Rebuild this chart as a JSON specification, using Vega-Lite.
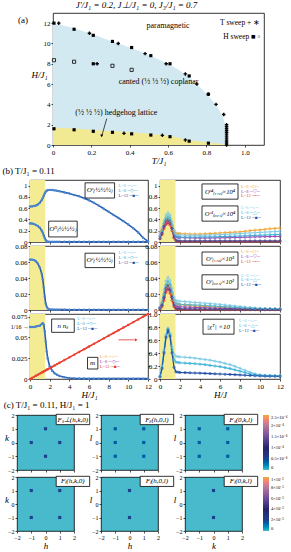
{
"$schema":"https://vega.github.io/schema/vega-lite/v6.json",
"padding":{"left":0,"top":0,"right":0,"bottom":0},
"spacing":0,
"config":{
 "font":"Liberation Serif",
 "view":{"stroke":"black","strokeWidth":0.8},
 "axis":{"grid":false,"domain":false,"tickColor":"black","tickSize":2,"tickWidth":0.7,"labelFont":"Liberation Serif","labelFontSize":7,"labelColor":"black","labelPadding":1,"titleFont":"Liberation Serif","titleFontSize":9,"titleFontStyle":"italic","titleFontWeight":"normal","titleColor":"black","titlePadding":1,"labelOverlap":false,"labelFlush":false},
 "text":{"font":"Liberation Serif","color":"black"},
 "title":{"font":"Liberation Serif","fontWeight":"normal","color":"black"}
},
"datasets":{
 "pbB":[{"T":0,"H":12.0},{"T":0.05,"H":11.8},{"T":0.1,"H":11.55},{"T":0.15,"H":11.25},{"T":0.2,"H":10.95},{"T":0.25,"H":10.6},{"T":0.3,"H":10.25},{"T":0.35,"H":9.95},{"T":0.4,"H":9.6},{"T":0.45,"H":9.25},{"T":0.5,"H":8.85},{"T":0.55,"H":8.45},{"T":0.6,"H":8.0},{"T":0.65,"H":7.45},{"T":0.7,"H":6.85},{"T":0.75,"H":6.0},{"T":0.8,"H":5.05},{"T":0.85,"H":3.95},{"T":0.88,"H":3.0},{"T":0.9,"H":2.0},{"T":0.907,"H":1.0},{"T":0.91,"H":0}],
 "pbY":[{"T":0,"H":1.72},{"T":0.1,"H":1.62},{"T":0.2,"H":1.5},{"T":0.3,"H":1.38},{"T":0.4,"H":1.25},{"T":0.5,"H":1.1},{"T":0.6,"H":0.9},{"T":0.65,"H":0.75},{"T":0.7,"H":0.5},{"T":0.8,"H":0.28},{"T":0.9,"H":0.06},{"T":0.91,"H":0}],
 "pts":[
  {"k":"t","T":0.03,"H":12.0},{"k":"t","T":0.19,"H":11.0},{"k":"t","T":0.23,"H":8.0},{"k":"t","T":0.34,"H":10.0},{"k":"t","T":0.37,"H":1.15},{"k":"t","T":0.48,"H":9.0},{"k":"t","T":0.57,"H":0.95},{"k":"t","T":0.59,"H":8.0},{"k":"t","T":0.69,"H":7.0},{"k":"t","T":0.69,"H":0.5},{"k":"t","T":0.75,"H":6.0},{"k":"t","T":0.81,"H":5.0},{"k":"t","T":0.85,"H":4.0},{"k":"t","T":0.89,"H":3.0},{"k":"t","T":0.905,"H":2.0},{"k":"t","T":0.905,"H":1.8},{"k":"t","T":0.905,"H":1.6},{"k":"t","T":0.905,"H":1.4},{"k":"t","T":0.905,"H":1.2},{"k":"t","T":0.905,"H":1.0},{"k":"t","T":0.905,"H":0.8},{"k":"t","T":0.905,"H":0.6},{"k":"t","T":0.905,"H":0.4},{"k":"t","T":0.905,"H":0.2},{"k":"t","T":0.905,"H":0.0},
  {"k":"h","T":0.005,"H":12.0},{"k":"h","T":0.11,"H":11.4},{"k":"h","T":0.21,"H":10.8},{"k":"h","T":0.31,"H":10.2},{"k":"h","T":0.41,"H":9.6},{"k":"h","T":0.51,"H":8.8},{"k":"h","T":0.61,"H":8.0},{"k":"h","T":0.71,"H":6.8},{"k":"h","T":0.81,"H":5.0},{"k":"h","T":0.005,"H":1.6},{"k":"h","T":0.11,"H":1.5},{"k":"h","T":0.21,"H":1.35},{"k":"h","T":0.31,"H":1.25},{"k":"h","T":0.41,"H":1.1},{"k":"h","T":0.51,"H":0.98},{"k":"h","T":0.61,"H":0.82},{"k":"h","T":0.71,"H":0.38},{"k":"h","T":0.81,"H":0.18},{"k":"h","T":0.21,"H":8.0},
  {"k":"o","T":0.005,"H":8.35},{"k":"o","T":0.11,"H":8.2},{"k":"o","T":0.31,"H":7.8},{"k":"o","T":0.41,"H":7.4}
 ],
 "lf":[
  {"H":0,"S":0.63,"O":0.33,"C":0.063,"n":0.0625,"m":0},
  {"H":0.2,"S":0.632,"O":0.327,"C":0.063,"n":0.0625,"m":0.016},
  {"H":0.4,"S":0.638,"O":0.318,"C":0.0625,"n":0.0625,"m":0.033},
  {"H":0.6,"S":0.648,"O":0.303,"C":0.061,"n":0.063,"m":0.05},
  {"H":0.8,"S":0.665,"O":0.283,"C":0.058,"n":0.0635,"m":0.066},
  {"H":1.0,"S":0.695,"O":0.252,"C":0.053,"n":0.064,"m":0.083},
  {"H":1.2,"S":0.745,"O":0.2,"C":0.045,"n":0.066,"m":0.1},
  {"H":1.3,"S":0.78,"O":0.165,"C":0.038,"n":0.067,"m":0.108},
  {"H":1.4,"S":0.82,"O":0.12,"C":0.028,"n":0.065,"m":0.116},
  {"H":1.5,"S":0.86,"O":0.07,"C":0.017,"n":0.057,"m":0.125},
  {"H":1.6,"S":0.89,"O":0.035,"C":0.008,"n":0.045,"m":0.133},
  {"H":1.7,"S":0.91,"O":0.015,"C":0.004,"n":0.033,"m":0.141},
  {"H":1.8,"S":0.92,"O":0.007,"C":0.002,"n":0.025,"m":0.15},
  {"H":2,"S":0.925,"O":0.004,"C":0.001,"n":0.015,"m":0.166},
  {"H":2.25,"S":0.922,"O":0.003,"C":0.0007,"n":0.01,"m":0.187},
  {"H":2.5,"S":0.916,"O":0.003,"C":0.0005,"n":0.007,"m":0.208},
  {"H":2.75,"S":0.908,"O":0.003,"C":0.0005,"n":0.005,"m":0.229},
  {"H":3,"S":0.9,"O":0.003,"C":0.0005,"n":0.0035,"m":0.25},
  {"H":3.5,"S":0.88,"O":0.003,"C":0.0005,"n":0.002,"m":0.291},
  {"H":4,"S":0.86,"O":0.003,"C":0.0004,"n":0.0012,"m":0.333},
  {"H":4.5,"S":0.835,"O":0.003,"C":0.0004,"n":0.0008,"m":0.375},
  {"H":5,"S":0.81,"O":0.003,"C":0.0004,"n":0.0006,"m":0.416},
  {"H":5.5,"S":0.778,"O":0.003,"C":0.0004,"n":0.0005,"m":0.458},
  {"H":6,"S":0.742,"O":0.003,"C":0.0004,"n":0.0004,"m":0.5},
  {"H":6.5,"S":0.695,"O":0.003,"C":0.0004,"n":0.0004,"m":0.541},
  {"H":7,"S":0.645,"O":0.003,"C":0.0004,"n":0.0004,"m":0.583},
  {"H":7.5,"S":0.59,"O":0.003,"C":0.0004,"n":0.0004,"m":0.625},
  {"H":8,"S":0.535,"O":0.003,"C":0.0004,"n":0.0004,"m":0.666},
  {"H":8.5,"S":0.48,"O":0.003,"C":0.0004,"n":0.0004,"m":0.708},
  {"H":9,"S":0.425,"O":0.003,"C":0.0004,"n":0.0004,"m":0.75},
  {"H":9.5,"S":0.37,"O":0.003,"C":0.0004,"n":0.0004,"m":0.791},
  {"H":10,"S":0.31,"O":0.003,"C":0.0004,"n":0.0004,"m":0.833},
  {"H":10.5,"S":0.245,"O":0.003,"C":0.0004,"n":0.0004,"m":0.875},
  {"H":11,"S":0.17,"O":0.003,"C":0.0004,"n":0.0004,"m":0.916},
  {"H":11.5,"S":0.075,"O":0.003,"C":0.0004,"n":0.0004,"m":0.958},
  {"H":12,"S":0.01,"O":0.003,"C":0.0004,"n":0.0004,"m":1.0}
 ],
 "r1r":[
  {"H":0,"C6":0.15,"C8":0.10,"C12":0.06,"S6":0.17,"S8":0.11,"S12":0.06},
  {"H":0.2,"C6":0.25,"C8":0.20,"C12":0.15,"S6":0.22,"S8":0.16,"S12":0.13},
  {"H":0.4,"C6":0.38,"C8":0.33,"C12":0.28,"S6":0.30,"S8":0.26,"S12":0.24},
  {"H":0.6,"C6":0.48,"C8":0.42,"C12":0.37,"S6":0.36,"S8":0.32,"S12":0.31},
  {"H":0.8,"C6":0.52,"C8":0.46,"C12":0.40,"S6":0.38,"S8":0.35,"S12":0.34},
  {"H":1.0,"C6":0.48,"C8":0.42,"C12":0.36,"S6":0.35,"S8":0.32,"S12":0.30},
  {"H":1.2,"C6":0.36,"C8":0.30,"C12":0.24,"S6":0.28,"S8":0.24,"S12":0.20},
  {"H":1.4,"C6":0.21,"C8":0.16,"C12":0.09,"S6":0.20,"S8":0.13,"S12":0.07},
  {"H":1.6,"C6":0.14,"C8":0.10,"C12":0.03,"S6":0.16,"S8":0.09,"S12":0.02},
  {"H":1.8,"C6":0.13,"C8":0.09,"C12":0.02,"S6":0.15,"S8":0.08,"S12":0.012},
  {"H":2,"C6":0.125,"C8":0.085,"C12":0.02,"S6":0.15,"S8":0.08,"S12":0.01},
  {"H":2.5,"C6":0.12,"C8":0.085,"C12":0.02,"S6":0.145,"S8":0.075,"S12":0.01},
  {"H":3,"C6":0.12,"C8":0.085,"C12":0.02,"S6":0.14,"S8":0.075,"S12":0.01},
  {"H":3.5,"C6":0.12,"C8":0.085,"C12":0.02,"S6":0.14,"S8":0.07,"S12":0.01},
  {"H":4,"C6":0.12,"C8":0.088,"C12":0.02,"S6":0.14,"S8":0.07,"S12":0.01},
  {"H":4.5,"C6":0.122,"C8":0.09,"C12":0.02,"S6":0.145,"S8":0.07,"S12":0.01},
  {"H":5,"C6":0.125,"C8":0.09,"C12":0.02,"S6":0.15,"S8":0.072,"S12":0.01},
  {"H":5.5,"C6":0.128,"C8":0.092,"C12":0.02,"S6":0.155,"S8":0.072,"S12":0.01},
  {"H":6,"C6":0.13,"C8":0.095,"C12":0.02,"S6":0.16,"S8":0.075,"S12":0.01},
  {"H":6.5,"C6":0.135,"C8":0.098,"C12":0.02,"S6":0.165,"S8":0.075,"S12":0.01},
  {"H":7,"C6":0.14,"C8":0.10,"C12":0.02,"S6":0.17,"S8":0.078,"S12":0.01},
  {"H":7.5,"C6":0.145,"C8":0.103,"C12":0.02,"S6":0.175,"S8":0.08,"S12":0.01},
  {"H":8,"C6":0.15,"C8":0.106,"C12":0.02,"S6":0.18,"S8":0.082,"S12":0.01},
  {"H":8.5,"C6":0.155,"C8":0.11,"C12":0.02,"S6":0.19,"S8":0.085,"S12":0.01},
  {"H":9,"C6":0.16,"C8":0.113,"C12":0.02,"S6":0.2,"S8":0.087,"S12":0.01},
  {"H":9.5,"C6":0.165,"C8":0.117,"C12":0.02,"S6":0.21,"S8":0.09,"S12":0.01},
  {"H":10,"C6":0.17,"C8":0.12,"C12":0.02,"S6":0.215,"S8":0.092,"S12":0.01},
  {"H":10.5,"C6":0.175,"C8":0.124,"C12":0.02,"S6":0.225,"S8":0.095,"S12":0.01},
  {"H":11,"C6":0.18,"C8":0.128,"C12":0.02,"S6":0.235,"S8":0.097,"S12":0.01},
  {"H":11.5,"C6":0.185,"C8":0.132,"C12":0.02,"S6":0.24,"S8":0.1,"S12":0.01},
  {"H":12,"C6":0.19,"C8":0.136,"C12":0.02,"S6":0.25,"S8":0.1,"S12":0.01}
 ],
 "r2r":[
  {"H":0,"C6":0.004,"C8":0.003,"C12":0.002,"S6":0.003,"S8":0.002,"S12":0.001},
  {"H":0.2,"C6":0.012,"C8":0.009,"C12":0.006,"S6":0.008,"S8":0.006,"S12":0.004},
  {"H":0.4,"C6":0.025,"C8":0.02,"C12":0.016,"S6":0.018,"S8":0.015,"S12":0.012},
  {"H":0.6,"C6":0.036,"C8":0.031,"C12":0.027,"S6":0.027,"S8":0.024,"S12":0.022},
  {"H":0.8,"C6":0.041,"C8":0.036,"C12":0.031,"S6":0.031,"S8":0.028,"S12":0.026},
  {"H":1.0,"C6":0.037,"C8":0.032,"C12":0.026,"S6":0.028,"S8":0.025,"S12":0.021},
  {"H":1.2,"C6":0.027,"C8":0.022,"C12":0.016,"S6":0.02,"S8":0.016,"S12":0.012},
  {"H":1.4,"C6":0.016,"C8":0.012,"C12":0.006,"S6":0.012,"S8":0.008,"S12":0.004},
  {"H":1.6,"C6":0.012,"C8":0.008,"C12":0.002,"S6":0.008,"S8":0.005,"S12":0.001},
  {"H":1.8,"C6":0.011,"C8":0.0075,"C12":0.0015,"S6":0.007,"S8":0.004,"S12":0.0008},
  {"H":2,"C6":0.011,"C8":0.007,"C12":0.0015,"S6":0.0065,"S8":0.004,"S12":0.0006},
  {"H":2.5,"C6":0.0105,"C8":0.0068,"C12":0.0014,"S6":0.006,"S8":0.0037,"S12":0.0005},
  {"H":3,"C6":0.01,"C8":0.0065,"C12":0.0013,"S6":0.0055,"S8":0.0035,"S12":0.0005},
  {"H":3.5,"C6":0.0095,"C8":0.0062,"C12":0.0012,"S6":0.005,"S8":0.0032,"S12":0.0005},
  {"H":4,"C6":0.009,"C8":0.006,"C12":0.0012,"S6":0.0047,"S8":0.003,"S12":0.0004},
  {"H":4.5,"C6":0.0085,"C8":0.0056,"C12":0.0011,"S6":0.0044,"S8":0.0028,"S12":0.0004},
  {"H":5,"C6":0.008,"C8":0.0052,"C12":0.001,"S6":0.004,"S8":0.0026,"S12":0.0004},
  {"H":5.5,"C6":0.0075,"C8":0.0048,"C12":0.001,"S6":0.0037,"S8":0.0024,"S12":0.0004},
  {"H":6,"C6":0.007,"C8":0.0045,"C12":0.0009,"S6":0.0034,"S8":0.0022,"S12":0.0003},
  {"H":6.5,"C6":0.0063,"C8":0.0041,"C12":0.0009,"S6":0.0031,"S8":0.002,"S12":0.0003},
  {"H":7,"C6":0.0056,"C8":0.0037,"C12":0.0008,"S6":0.0028,"S8":0.0018,"S12":0.0003},
  {"H":7.5,"C6":0.005,"C8":0.0033,"C12":0.0008,"S6":0.0025,"S8":0.0016,"S12":0.0003},
  {"H":8,"C6":0.0043,"C8":0.0029,"C12":0.0007,"S6":0.0022,"S8":0.0014,"S12":0.0003},
  {"H":8.5,"C6":0.0037,"C8":0.0025,"C12":0.0007,"S6":0.002,"S8":0.0013,"S12":0.0003},
  {"H":9,"C6":0.0031,"C8":0.0022,"C12":0.0006,"S6":0.0018,"S8":0.0012,"S12":0.0003},
  {"H":9.5,"C6":0.0026,"C8":0.0019,"C12":0.0006,"S6":0.0016,"S8":0.0011,"S12":0.0003},
  {"H":10,"C6":0.0022,"C8":0.0016,"C12":0.0006,"S6":0.0015,"S8":0.001,"S12":0.0003},
  {"H":10.5,"C6":0.002,"C8":0.0015,"C12":0.0005,"S6":0.0014,"S8":0.001,"S12":0.0003},
  {"H":11,"C6":0.0018,"C8":0.0014,"C12":0.0005,"S6":0.0013,"S8":0.0009,"S12":0.0003},
  {"H":11.5,"C6":0.0017,"C8":0.0013,"C12":0.0005,"S6":0.0012,"S8":0.0009,"S12":0.0003},
  {"H":12,"C6":0.0016,"C8":0.0012,"C12":0.0005,"S6":0.0012,"S8":0.0008,"S12":0.0003}
 ],
 "r3r":[
  {"H":0,"X6":0.05,"X8":0.04,"X12":0.03},
  {"H":0.2,"X6":0.2,"X8":0.18,"X12":0.16},
  {"H":0.4,"X6":0.45,"X8":0.42,"X12":0.40},
  {"H":0.6,"X6":0.68,"X8":0.66,"X12":0.64},
  {"H":0.8,"X6":0.78,"X8":0.77,"X12":0.75},
  {"H":1.0,"X6":0.7,"X8":0.68,"X12":0.66},
  {"H":1.2,"X6":0.5,"X8":0.45,"X12":0.4},
  {"H":1.4,"X6":0.38,"X8":0.3,"X12":0.18},
  {"H":1.6,"X6":0.35,"X8":0.26,"X12":0.11},
  {"H":1.8,"X6":0.345,"X8":0.255,"X12":0.105},
  {"H":2,"X6":0.34,"X8":0.25,"X12":0.1},
  {"H":2.5,"X6":0.335,"X8":0.245,"X12":0.098},
  {"H":3,"X6":0.33,"X8":0.24,"X12":0.095},
  {"H":3.5,"X6":0.32,"X8":0.235,"X12":0.092},
  {"H":4,"X6":0.31,"X8":0.228,"X12":0.09},
  {"H":4.5,"X6":0.3,"X8":0.22,"X12":0.087},
  {"H":5,"X6":0.29,"X8":0.21,"X12":0.084},
  {"H":5.5,"X6":0.275,"X8":0.2,"X12":0.08},
  {"H":6,"X6":0.26,"X8":0.19,"X12":0.077},
  {"H":6.5,"X6":0.24,"X8":0.175,"X12":0.073},
  {"H":7,"X6":0.22,"X8":0.16,"X12":0.07},
  {"H":7.5,"X6":0.195,"X8":0.14,"X12":0.066},
  {"H":8,"X6":0.165,"X8":0.12,"X12":0.062},
  {"H":8.5,"X6":0.135,"X8":0.1,"X12":0.058},
  {"H":9,"X6":0.105,"X8":0.08,"X12":0.054},
  {"H":9.5,"X6":0.08,"X8":0.065,"X12":0.05},
  {"H":10,"X6":0.065,"X8":0.055,"X12":0.047},
  {"H":10.5,"X6":0.058,"X8":0.05,"X12":0.045},
  {"H":11,"X6":0.055,"X8":0.048,"X12":0.043},
  {"H":11.5,"X6":0.053,"X8":0.047,"X12":0.042},
  {"H":12,"X6":0.052,"X8":0.046,"X12":0.041}
 ],
 "pk":[
  {"m":"a","x":0,"y":1,"v":0.00005},{"m":"a","x":-1,"y":0,"v":0.00005},{"m":"a","x":1,"y":0,"v":0.00005},{"m":"a","x":0,"y":-1,"v":0.00005},
  {"m":"b","x":-1,"y":1,"v":0.00004},{"m":"b","x":1,"y":1,"v":0.00004},{"m":"b","x":-1,"y":0,"v":0.00004},{"m":"b","x":1,"y":0,"v":0.00004},{"m":"b","x":-1,"y":-1,"v":0.00004},{"m":"b","x":1,"y":-1,"v":0.00004},
  {"m":"c","x":-1,"y":1,"v":0.00004},{"m":"c","x":1,"y":1,"v":0.00004},{"m":"c","x":-1,"y":0,"v":0.00004},{"m":"c","x":1,"y":0,"v":0.00004},{"m":"c","x":-1,"y":-1,"v":0.00004},{"m":"c","x":1,"y":-1,"v":0.00004},
  {"m":"d","x":-1,"y":1,"v":0.002},{"m":"d","x":1,"y":1,"v":0.002},{"m":"d","x":-1,"y":-1,"v":0.002},{"m":"d","x":1,"y":-1,"v":0.002},
  {"m":"e","x":0,"y":1,"v":0.002},{"m":"e","x":0,"y":-1,"v":0.002},
  {"m":"f","x":0,"y":1,"v":0.002},{"m":"f","x":0,"y":-1,"v":0.002}
 ]
},
"vconcat":[
 {"bounds":"flush","spacing":1,"hconcat":[
  {"width":35,"height":1,"view":{"stroke":null},"data":{"values":[{}]},"mark":{"type":"point","opacity":0},"encoding":{}},
  {"width":211,"height":132,
   "title":{"text":"J′/J₁ = 0.2,  J⊥/J₁ = 0,  J₃/J₁ = 0.7","fontSize":9,"fontStyle":"italic","offset":3,"dx":-22},
   "layer":[
    {"data":{"name":"pbB"},"mark":{"type":"area","color":"#d3e9f2"},"encoding":{"x":{"field":"T","type":"quantitative","scale":{"domain":[0,1.1],"nice":false},"axis":{"values":[0,0.2,0.4,0.6,0.8,1],"tickCount":20,"labelExpr":"datum.value==0?'0':format(datum.value,'.1f')","title":"T/J₁"}},"y":{"field":"H","type":"quantitative","scale":{"domain":[0,13],"nice":false},"axis":{"tickCount":7,"format":"d","title":"H/J₁","titleAngle":0,"titlePadding":4}}}},
    {"data":{"name":"pbY"},"mark":{"type":"area","color":"#f2ea93"},"encoding":{"x":{"field":"T","type":"quantitative"},"y":{"field":"H","type":"quantitative"}}},
    {"data":{"name":"pts"},"transform":[{"filter":"datum.k=='t'"}],"mark":{"type":"point","shape":"cross","filled":true,"color":"black","size":12,"opacity":1},"encoding":{"x":{"field":"T","type":"quantitative"},"y":{"field":"H","type":"quantitative"}}},
    {"data":{"name":"pts"},"transform":[{"filter":"datum.k=='h'"}],"mark":{"type":"point","shape":"square","filled":true,"color":"black","size":10,"opacity":1},"encoding":{"x":{"field":"T","type":"quantitative"},"y":{"field":"H","type":"quantitative"}}},
    {"data":{"name":"pts"},"transform":[{"filter":"datum.k=='o'"}],"mark":{"type":"point","shape":"square","filled":false,"color":"black","size":10,"strokeWidth":0.8,"opacity":1},"encoding":{"x":{"field":"T","type":"quantitative"},"y":{"field":"H","type":"quantitative"}}},
    {"data":{"values":[{}]},"mark":{"type":"text","fontSize":8},"encoding":{"x":{"datum":0.6},"y":{"datum":11.7},"text":{"value":"paramagnetic"}}},
    {"data":{"values":[{}]},"mark":{"type":"text","fontSize":7.5,"align":"right"},"encoding":{"x":{"datum":1.08},"y":{"datum":12.0},"text":{"value":"T sweep + ∗"}}},
    {"data":{"values":[{}]},"mark":{"type":"text","fontSize":7.5,"align":"right"},"encoding":{"x":{"datum":1.08},"y":{"datum":10.6},"text":{"value":"H sweep ■ ▫"}}},
    {"data":{"values":[{}]},"mark":{"type":"text","fontSize":8},"encoding":{"x":{"datum":0.55},"y":{"datum":6.2},"text":{"value":"canted (½ ½ ½) coplanar"}}},
    {"data":{"values":[{}]},"mark":{"type":"text","fontSize":8},"encoding":{"x":{"datum":0.33},"y":{"datum":3.2},"text":{"value":"(½ ½ ½) hedgehog lattice"}}},
    {"data":{"values":[{}]},"mark":{"type":"text","fontSize":9},"encoding":{"x":{"datum":-0.156},"y":{"datum":12.3},"text":{"value":"(a)"}}},
    {"data":{"values":[{}]},"mark":{"type":"rule","color":"black","strokeWidth":0.7},"encoding":{"x":{"datum":0.28},"y":{"datum":2.6},"x2":{"datum":0.256},"y2":{"datum":1.0}}},
    {"data":{"values":[{}]},"mark":{"type":"point","shape":"triangle-down","filled":true,"color":"black","size":10,"opacity":1},"encoding":{"x":{"datum":0.254},"y":{"datum":0.9}}}
   ]}
 ]},
  {"columns":3,"bounds":"flush","align":"each","spacing":{"row":4,"column":12},"resolve":{"scale":{"color":"independent"}},"concat":[
     {"width":1,"height":1,"view":{"stroke":null},"data":{"values":[{}]},"mark":{"type":"point","opacity":0},"encoding":{}},
     {"width":118,"height":62,"layer":[
      {"data":{"values":[{"a":0,"b":1.55}]},"mark":{"type":"rect","color":"#f3ec92"},"encoding":{"x":{"field":"a","type":"quantitative","scale":{"domain":[0,12],"nice":false},"axis":{"tickCount":7,"labels":false,"title":null}},"x2":{"field":"b"}}},
      {"data":{"name":"lf"},"mark":{"type":"line","color":"#2a5cb0","strokeWidth":1.6,"point":{"filled":true,"size":6,"color":"#4a86cf"}},"encoding":{"x":{"field":"H","type":"quantitative","axis":{"tickCount":7,"labels":false,"title":null}},"y":{"field":"S","type":"quantitative","scale":{"domain":[0,1.1],"nice":false},"axis":{"tickCount":6,"labelExpr":"datum.value==0?'0':datum.value==1?'1':format(datum.value,'.1f')","title":null}}}},
      {"data":{"name":"lf"},"mark":{"type":"line","color":"#2a5cb0","strokeWidth":1.6,"point":{"filled":true,"size":6,"color":"#4a86cf"}},"encoding":{"x":{"field":"H","type":"quantitative"},"y":{"field":"O","type":"quantitative"}}},
      {"data":{"values":[{}]},"mark":{"type":"rect","fill":"white","stroke":"black","strokeWidth":0.8},"encoding":{"x":{"datum":5.6},"x2":{"datum":8.6},"y":{"datum":1.05},"y2":{"datum":0.78}}},
      {"data":{"values":[{}]},"mark":{"type":"text","fontSize":7,"fontStyle":"italic"},"encoding":{"x":{"datum":7.1},"y":{"datum":0.915},"text":{"value":"Oˢ₍½½½₎"}}},
      {"data":{"values":[{}]},"mark":{"type":"rect","fill":"white","stroke":"black","strokeWidth":0.8},"encoding":{"x":{"datum":1.9},"x2":{"datum":4.8},"y":{"datum":0.37},"y2":{"datum":0.09}}},
      {"data":{"values":[{}]},"mark":{"type":"text","fontSize":7,"fontStyle":"italic"},"encoding":{"x":{"datum":3.35},"y":{"datum":0.23},"text":{"value":"Oᴴ₍½½½₎"}}},
      {"data":{"values":[{}]},"mark":{"type":"text","fontSize":4.5,"align":"left","color":"#6fc3e0"},"encoding":{"x":{"datum":9.0},"y":{"datum":0.99},"text":{"value":"L=6 ─○─"}}},
      {"data":{"values":[{}]},"mark":{"type":"text","fontSize":4.5,"align":"left","color":"#38a9d6"},"encoding":{"x":{"datum":9.0},"y":{"datum":0.905},"text":{"value":"L=8 ─◇─"}}},
      {"data":{"values":[{}]},"mark":{"type":"text","fontSize":4.5,"align":"left","color":"#1f4ea5"},"encoding":{"x":{"datum":9.0},"y":{"datum":0.82},"text":{"value":"L=12 ─■─"}}},
      {"data":{"values":[{}]},"mark":{"type":"text","fontSize":9,"align":"left"},"encoding":{"x":{"datum":-2.8},"y":{"datum":1.26},"text":{"value":"(b)  T/J₁ = 0.11"}}}
     ]},
     {"width":120,"height":62,"layer":[
      {"data":{"values":[{"a":0,"b":1.55}]},"mark":{"type":"rect","color":"#f3ec92"},"encoding":{"x":{"field":"a","type":"quantitative","scale":{"domain":[0,12],"nice":false},"axis":{"tickCount":7,"labels":false,"title":null}},"x2":{"field":"b"}}},
      {"data":{"name":"r1r"},"transform":[{"fold":["S6","S8","S12","C6","C8","C12"],"as":["s","v"]}],"mark":{"type":"line","strokeWidth":1,"point":{"size":5,"filled":false,"strokeWidth":0.7}},"encoding":{"x":{"field":"H","type":"quantitative","axis":{"tickCount":7,"labels":false,"title":null}},"y":{"field":"v","type":"quantitative","scale":{"domain":[0,1.1],"nice":false},"axis":{"tickCount":6,"labelExpr":"datum.value==0?'0':datum.value==1?'1':format(datum.value,'.1f')","title":null}},"color":{"field":"s","type":"nominal","scale":{"domain":["C6","C8","C12","S6","S8","S12"],"range":["#7fcbe6","#3fb3d9","#1f4ea5","#f5a431","#9b44b0","#e8312a"]},"legend":null}}},
      {"data":{"values":[{}]},"mark":{"type":"rect","fill":"white","stroke":"black","strokeWidth":0.8},"encoding":{"x":{"datum":4.2},"x2":{"datum":7.8},"y":{"datum":1.03},"y2":{"datum":0.76}}},
      {"data":{"values":[{}]},"mark":{"type":"text","fontSize":6.5,"fontStyle":"italic"},"encoding":{"x":{"datum":6.0},"y":{"datum":0.895},"text":{"value":"Oˢ⁴₍₁₁₀₎×10⁴"}}},
      {"data":{"values":[{}]},"mark":{"type":"text","fontSize":4.5,"align":"left","color":"#f5a431"},"encoding":{"x":{"datum":8.1},"y":{"datum":0.98},"text":{"value":"L=6 ─□─"}}},
      {"data":{"values":[{}]},"mark":{"type":"text","fontSize":4.5,"align":"left","color":"#9b44b0"},"encoding":{"x":{"datum":8.1},"y":{"datum":0.895},"text":{"value":"L=8 ─▽─"}}},
      {"data":{"values":[{}]},"mark":{"type":"text","fontSize":4.5,"align":"left","color":"#e8312a"},"encoding":{"x":{"datum":8.1},"y":{"datum":0.81},"text":{"value":"L=12 ─•─"}}},
      {"data":{"values":[{}]},"mark":{"type":"rect","fill":"white","stroke":"black","strokeWidth":0.8},"encoding":{"x":{"datum":4.2},"x2":{"datum":7.8},"y":{"datum":0.64},"y2":{"datum":0.37}}},
      {"data":{"values":[{}]},"mark":{"type":"text","fontSize":6.5,"fontStyle":"italic"},"encoding":{"x":{"datum":6.0},"y":{"datum":0.505},"text":{"value":"Oᶜ¹₍₀₀₁₎×10⁴"}}},
      {"data":{"values":[{}]},"mark":{"type":"text","fontSize":4.5,"align":"left","color":"#7fcbe6"},"encoding":{"x":{"datum":8.1},"y":{"datum":0.6},"text":{"value":"L=6 ─○─"}}},
      {"data":{"values":[{}]},"mark":{"type":"text","fontSize":4.5,"align":"left","color":"#3fb3d9"},"encoding":{"x":{"datum":8.1},"y":{"datum":0.515},"text":{"value":"L=8 ─△─"}}},
      {"data":{"values":[{}]},"mark":{"type":"text","fontSize":4.5,"align":"left","color":"#1f4ea5"},"encoding":{"x":{"datum":8.1},"y":{"datum":0.43},"text":{"value":"L=12 ─■─"}}}
     ]},
     {"width":1,"height":1,"view":{"stroke":null},"data":{"values":[{}]},"mark":{"type":"point","opacity":0},"encoding":{}},
     {"width":118,"height":64,"layer":[
      {"data":{"values":[{"a":0,"b":1.55}]},"mark":{"type":"rect","color":"#f3ec92"},"encoding":{"x":{"field":"a","type":"quantitative","scale":{"domain":[0,12],"nice":false},"axis":{"tickCount":7,"labels":false,"title":null}},"x2":{"field":"b"}}},
      {"data":{"name":"lf"},"mark":{"type":"line","color":"#2a5cb0","strokeWidth":1.6,"point":{"filled":true,"size":6,"color":"#4a86cf"}},"encoding":{"x":{"field":"H","type":"quantitative","axis":{"tickCount":7,"labels":false,"title":null}},"y":{"field":"C","type":"quantitative","scale":{"domain":[0,0.08],"nice":false},"axis":{"tickCount":4,"labelExpr":"datum.value==0?'0':format(datum.value,'.2f')","title":null}}}},
      {"data":{"values":[{}]},"mark":{"type":"rect","fill":"white","stroke":"black","strokeWidth":0.8},"encoding":{"x":{"datum":5.6},"x2":{"datum":8.6},"y":{"datum":0.071},"y2":{"datum":0.053}}},
      {"data":{"values":[{}]},"mark":{"type":"text","fontSize":7,"fontStyle":"italic"},"encoding":{"x":{"datum":7.1},"y":{"datum":0.062},"text":{"value":"Oᶜ₍½½½₎"}}},
      {"data":{"values":[{}]},"mark":{"type":"text","fontSize":4.5,"align":"left","color":"#6fc3e0"},"encoding":{"x":{"datum":9.0},"y":{"datum":0.071},"text":{"value":"L=6 ─○─"}}},
      {"data":{"values":[{}]},"mark":{"type":"text","fontSize":4.5,"align":"left","color":"#38a9d6"},"encoding":{"x":{"datum":9.0},"y":{"datum":0.065},"text":{"value":"L=8 ─◇─"}}},
      {"data":{"values":[{}]},"mark":{"type":"text","fontSize":4.5,"align":"left","color":"#1f4ea5"},"encoding":{"x":{"datum":9.0},"y":{"datum":0.059},"text":{"value":"L=12 ─■─"}}}
     ]},
     {"width":120,"height":64,"layer":[
      {"data":{"values":[{"a":0,"b":1.55}]},"mark":{"type":"rect","color":"#f3ec92"},"encoding":{"x":{"field":"a","type":"quantitative","scale":{"domain":[0,12],"nice":false},"axis":{"tickCount":7,"labels":false,"title":null}},"x2":{"field":"b"}}},
      {"data":{"name":"r2r"},"transform":[{"fold":["S6","S8","S12","C6","C8","C12"],"as":["s","v"]}],"mark":{"type":"line","strokeWidth":1,"point":{"size":5,"filled":false,"strokeWidth":0.7}},"encoding":{"x":{"field":"H","type":"quantitative","axis":{"tickCount":7,"labels":false,"title":null}},"y":{"field":"v","type":"quantitative","scale":{"domain":[0,0.08],"nice":false},"axis":{"tickCount":4,"labelExpr":"datum.value==0?'0':format(datum.value,'.2f')","title":null}},"color":{"field":"s","type":"nominal","scale":{"domain":["C6","C8","C12","S6","S8","S12"],"range":["#7fcbe6","#3fb3d9","#1f4ea5","#f5a431","#9b44b0","#e8312a"]},"legend":null}}},
      {"data":{"values":[{}]},"mark":{"type":"rect","fill":"white","stroke":"black","strokeWidth":0.8},"encoding":{"x":{"datum":4.2},"x2":{"datum":7.8},"y":{"datum":0.0725},"y2":{"datum":0.056}}},
      {"data":{"values":[{}]},"mark":{"type":"text","fontSize":6.5,"fontStyle":"italic"},"encoding":{"x":{"datum":6.0},"y":{"datum":0.064},"text":{"value":"Oᶜ₍₁₁₀₎×10³"}}},
      {"data":{"values":[{}]},"mark":{"type":"text","fontSize":4.5,"align":"left","color":"#f5a431"},"encoding":{"x":{"datum":8.1},"y":{"datum":0.072},"text":{"value":"L=6 ─□─"}}},
      {"data":{"values":[{}]},"mark":{"type":"text","fontSize":4.5,"align":"left","color":"#9b44b0"},"encoding":{"x":{"datum":8.1},"y":{"datum":0.066},"text":{"value":"L=8 ─▽─"}}},
      {"data":{"values":[{}]},"mark":{"type":"text","fontSize":4.5,"align":"left","color":"#e8312a"},"encoding":{"x":{"datum":8.1},"y":{"datum":0.060},"text":{"value":"L=12 ─•─"}}},
      {"data":{"values":[{}]},"mark":{"type":"rect","fill":"white","stroke":"black","strokeWidth":0.8},"encoding":{"x":{"datum":4.2},"x2":{"datum":7.8},"y":{"datum":0.044},"y2":{"datum":0.026}}},
      {"data":{"values":[{}]},"mark":{"type":"text","fontSize":6.5,"fontStyle":"italic"},"encoding":{"x":{"datum":6.0},"y":{"datum":0.035},"text":{"value":"Oᶜ₍₀₀₁₎×10²"}}},
      {"data":{"values":[{}]},"mark":{"type":"text","fontSize":4.5,"align":"left","color":"#7fcbe6"},"encoding":{"x":{"datum":8.1},"y":{"datum":0.043},"text":{"value":"L=6 ─○─"}}},
      {"data":{"values":[{}]},"mark":{"type":"text","fontSize":4.5,"align":"left","color":"#3fb3d9"},"encoding":{"x":{"datum":8.1},"y":{"datum":0.037},"text":{"value":"L=8 ─△─"}}},
      {"data":{"values":[{}]},"mark":{"type":"text","fontSize":4.5,"align":"left","color":"#1f4ea5"},"encoding":{"x":{"datum":8.1},"y":{"datum":0.031},"text":{"value":"L=12 ─■─"}}}
     ]},
     {"width":1,"height":1,"view":{"stroke":null},"data":{"values":[{}]},"mark":{"type":"point","opacity":0},"encoding":{}},
     {"width":118,"height":65,"resolve":{"scale":{"y":"independent"}},"layer":[
      {"layer":[
       {"data":{"values":[{"a":0,"b":1.55}]},"mark":{"type":"rect","color":"#f3ec92"},"encoding":{"x":{"field":"a","type":"quantitative","scale":{"domain":[0,12],"nice":false},"axis":{"tickCount":7,"title":"H/J₁"}},"x2":{"field":"b"}}},
       {"data":{"name":"lf"},"mark":{"type":"line","color":"#2a5cb0","strokeWidth":1.6,"point":{"filled":true,"size":6,"color":"#4a86cf"}},"encoding":{"x":{"field":"H","type":"quantitative","axis":{"tickCount":7,"title":"H/J₁"}},"y":{"field":"n","type":"quantitative","scale":{"domain":[0,0.078],"nice":false},"axis":{"values":[0,0.025,0.05,0.075],"tickCount":20,"labelExpr":"datum.value==0?'0':datum.value==0.05?'0.05':format(datum.value,'.3f')","title":null}}}},
       {"data":{"values":[{}]},"mark":{"type":"rect","fill":"white","stroke":"black","strokeWidth":0.8},"encoding":{"x":{"datum":2.2},"x2":{"datum":4.5},"y":{"datum":0.072},"y2":{"datum":0.056}}},
       {"data":{"values":[{}]},"mark":{"type":"text","fontSize":7,"fontStyle":"italic"},"encoding":{"x":{"datum":3.35},"y":{"datum":0.064},"text":{"value":"n   nₛ"}}},
       {"data":{"values":[{}]},"mark":{"type":"text","fontSize":4.5,"align":"left","color":"#6fc3e0"},"encoding":{"x":{"datum":4.8},"y":{"datum":0.072},"text":{"value":"L=6 ─○─"}}},
       {"data":{"values":[{}]},"mark":{"type":"text","fontSize":4.5,"align":"left","color":"#38a9d6"},"encoding":{"x":{"datum":4.8},"y":{"datum":0.066},"text":{"value":"L=8 ─◇─"}}},
       {"data":{"values":[{}]},"mark":{"type":"text","fontSize":4.5,"align":"left","color":"#1f4ea5"},"encoding":{"x":{"datum":4.8},"y":{"datum":0.060},"text":{"value":"L=12 ─■─"}}},
       {"data":{"values":[{}]},"mark":{"type":"rect","fill":"white","stroke":"black","strokeWidth":0.8},"encoding":{"x":{"datum":5.85},"x2":{"datum":6.9},"y":{"datum":0.026},"y2":{"datum":0.012}}},
       {"data":{"values":[{}]},"mark":{"type":"text","fontSize":7,"fontStyle":"italic"},"encoding":{"x":{"datum":6.37},"y":{"datum":0.019},"text":{"value":"m"}}},
       {"data":{"values":[{}]},"mark":{"type":"text","fontSize":4.5,"align":"left","color":"#f5a431"},"encoding":{"x":{"datum":7.1},"y":{"datum":0.026},"text":{"value":"L=6 ─○─"}}},
       {"data":{"values":[{}]},"mark":{"type":"text","fontSize":4.5,"align":"left","color":"#9b44b0"},"encoding":{"x":{"datum":7.1},"y":{"datum":0.020},"text":{"value":"L=8 ─◇─"}}},
       {"data":{"values":[{}]},"mark":{"type":"text","fontSize":4.5,"align":"left","color":"#e8312a"},"encoding":{"x":{"datum":7.1},"y":{"datum":0.014},"text":{"value":"L=12 ─■─"}}},
       {"data":{"values":[{}]},"mark":{"type":"rule","color":"#e8312a","strokeWidth":0.8},"encoding":{"x":{"datum":9.0},"y":{"datum":0.047},"x2":{"datum":10.6}}},
       {"data":{"values":[{}]},"mark":{"type":"point","shape":"triangle-right","filled":true,"color":"#e8312a","size":10,"opacity":1},"encoding":{"x":{"datum":10.8},"y":{"datum":0.047}}},
       {"data":{"values":[{}]},"mark":{"type":"text","fontSize":6,"align":"right","dx":-1},"encoding":{"x":{"datum":0},"y":{"datum":0.0625},"text":{"value":"1/16 →"}}}
      ]},
      {"data":{"name":"lf"},"mark":{"type":"line","color":"#e8352b","strokeWidth":1.5,"point":{"filled":true,"size":6,"color":"#ee4433"}},"encoding":{"x":{"field":"H","type":"quantitative","axis":{"tickCount":7,"title":"H/J₁"}},"y":{"field":"m","type":"quantitative","scale":{"domain":[0,1],"nice":false},"axis":{"orient":"right","tickCount":6,"labels":false,"title":null}}}}
     ]},
     {"width":120,"height":65,"layer":[
      {"data":{"values":[{"a":0,"b":1.55}]},"mark":{"type":"rect","color":"#f3ec92"},"encoding":{"x":{"field":"a","type":"quantitative","scale":{"domain":[0,12],"nice":false},"axis":{"tickCount":7,"title":"H/J"}},"x2":{"field":"b"}}},
      {"data":{"name":"r3r"},"transform":[{"fold":["X6","X8","X12"],"as":["s","v"]}],"mark":{"type":"line","strokeWidth":1.2,"point":{"size":5,"filled":false,"strokeWidth":0.7}},"encoding":{"x":{"field":"H","type":"quantitative","axis":{"tickCount":7,"title":"H/J"}},"y":{"field":"v","type":"quantitative","scale":{"domain":[0,1],"nice":false},"axis":{"tickCount":6,"labelExpr":"datum.value==0?'0':format(datum.value,'.1f')","title":null}},"color":{"field":"s","type":"nominal","scale":{"domain":["X6","X8","X12"],"range":["#7fcbe6","#3fb3d9","#1f4ea5"]},"legend":null}}},
      {"data":{"values":[{}]},"mark":{"type":"rect","fill":"white","stroke":"black","strokeWidth":0.8},"encoding":{"x":{"datum":4.3},"x2":{"datum":7.4},"y":{"datum":0.92},"y2":{"datum":0.69}}},
      {"data":{"values":[{}]},"mark":{"type":"text","fontSize":7,"fontStyle":"italic"},"encoding":{"x":{"datum":5.85},"y":{"datum":0.805},"text":{"value":"|χᵀ| ×10"}}},
      {"data":{"values":[{}]},"mark":{"type":"text","fontSize":4.5,"align":"left","color":"#7fcbe6"},"encoding":{"x":{"datum":7.9},"y":{"datum":0.9},"text":{"value":"L=6 ─○─"}}},
      {"data":{"values":[{}]},"mark":{"type":"text","fontSize":4.5,"align":"left","color":"#3fb3d9"},"encoding":{"x":{"datum":7.9},"y":{"datum":0.82},"text":{"value":"L=8 ─△─"}}},
      {"data":{"values":[{}]},"mark":{"type":"text","fontSize":4.5,"align":"left","color":"#1f4ea5"},"encoding":{"x":{"datum":7.9},"y":{"datum":0.74},"text":{"value":"L=12 ─■─"}}}
     ]}
  ]},
  {"columns":3,"bounds":"flush","align":"each","spacing":{"row":7,"column":27},
   "title":{"text":"(c)  T/J₁ = 0.11, H/J₁ = 1","anchor":"start","fontSize":9,"offset":2,"dx":3},
   "resolve":{"scale":{"color":"independent"},"legend":{"color":"independent"}},
   "concat":[
    {"width":57,"height":55,"view":{"fill":"#48bacb","stroke":"black","strokeWidth":0.8},"layer":[
     {"data":{"name":"pk"},"transform":[{"filter":"datum.m=='a'"}],"mark":{"type":"point","shape":"square","filled":true,"size":10,"opacity":1},"encoding":{"x":{"field":"x","type":"quantitative","scale":{"domain":[-2,2],"nice":false},"axis":{"tickCount":5,"labels":false,"title":null,"labelFontSize":6}},"y":{"field":"y","type":"quantitative","scale":{"domain":[-2,2],"nice":false},"axis":{"tickCount":5,"title":"k","titleAngle":0,"labelFontSize":6,"titlePadding":1}},"color":{"field":"v","type":"quantitative","scale":{"domain":[0,0.00025],"range":["#45b9c9","#1f3f8f","#24246a","#6a4c9c","#b07a9a","#f2a83a"]},"legend":null}}},
     {"data":{"values":[{}]},"mark":{"type":"rect","fill":"white","stroke":"black","strokeWidth":0.8},"encoding":{"x":{"datum":0.75},"x2":{"datum":3.1},"y":{"datum":2.05},"y2":{"datum":1.3}}},
     {"data":{"values":[{}]},"mark":{"type":"text","fontSize":7,"fontStyle":"italic"},"encoding":{"x":{"datum":1.92},"y":{"datum":1.67},"text":{"value":"Fₛ⊥(h,k,0)"}}},
     {"data":{"values":[{}]},"mark":{"type":"text","fontSize":6,"opacity":0,"align":"left"},"encoding":{"x":{"datum":-3.12},"y":{"datum":2.0},"text":{"value":"."}}}
    ]},
    {"width":57,"height":55,"view":{"fill":"#48bacb","stroke":"black","strokeWidth":0.8},"layer":[
     {"data":{"name":"pk"},"transform":[{"filter":"datum.m=='b'"}],"mark":{"type":"point","shape":"square","filled":true,"size":10,"opacity":1},"encoding":{"x":{"field":"x","type":"quantitative","scale":{"domain":[-2,2],"nice":false},"axis":{"tickCount":5,"labels":false,"title":null,"labelFontSize":6}},"y":{"field":"y","type":"quantitative","scale":{"domain":[-2,2],"nice":false},"axis":{"tickCount":5,"title":"l","titleAngle":0,"labelFontSize":6,"titlePadding":1}},"color":{"field":"v","type":"quantitative","scale":{"domain":[0,0.00025],"range":["#45b9c9","#1f3f8f","#24246a","#6a4c9c","#b07a9a","#f2a83a"]},"legend":null}}},
     {"data":{"values":[{}]},"mark":{"type":"rect","fill":"white","stroke":"black","strokeWidth":0.8},"encoding":{"x":{"datum":0.75},"x2":{"datum":3.1},"y":{"datum":2.05},"y2":{"datum":1.3}}},
     {"data":{"values":[{}]},"mark":{"type":"text","fontSize":7,"fontStyle":"italic"},"encoding":{"x":{"datum":1.92},"y":{"datum":1.67},"text":{"value":"Fₛ(h,0,l)"}}}
    ]},
    {"width":57,"height":55,"view":{"fill":"#48bacb","stroke":"black","strokeWidth":0.8},"layer":[
     {"data":{"name":"pk"},"transform":[{"filter":"datum.m=='c'"}],"mark":{"type":"point","shape":"square","filled":true,"size":10,"opacity":1},"encoding":{"x":{"field":"x","type":"quantitative","scale":{"domain":[-2,2],"nice":false},"axis":{"tickCount":5,"labels":false,"title":null,"labelFontSize":6}},"y":{"field":"y","type":"quantitative","scale":{"domain":[-2,2],"nice":false},"axis":{"tickCount":5,"title":"l","titleAngle":0,"labelFontSize":6,"titlePadding":1}},"color":{"field":"v","type":"quantitative","scale":{"domain":[0,0.00025],"range":["#45b9c9","#1f3f8f","#24246a","#6a4c9c","#b07a9a","#f2a83a"]},"legend":{"orient":"right","offset":21,"padding":0,"title":null,"gradientLength":55,"gradientThickness":6,"direction":"vertical","values":[0,0.00005,0.0001,0.00015,0.0002,0.00025],"labelExpr":"datum.value==0?'0':format(datum.value*10000,'.1~f')+'×10⁻⁴'","labelFontSize":4.5,"labelFont":"Liberation Serif","labelOverlap":false,"labelOffset":2}}}},
     {"data":{"values":[{}]},"mark":{"type":"rect","fill":"white","stroke":"black","strokeWidth":0.8},"encoding":{"x":{"datum":0.75},"x2":{"datum":3.1},"y":{"datum":2.05},"y2":{"datum":1.3}}},
     {"data":{"values":[{}]},"mark":{"type":"text","fontSize":7,"fontStyle":"italic"},"encoding":{"x":{"datum":1.92},"y":{"datum":1.67},"text":{"value":"Fₛ(0,k,l)"}}}
    ]},
    {"width":57,"height":54,"view":{"fill":"#48bacb","stroke":"black","strokeWidth":0.8},"layer":[
     {"data":{"name":"pk"},"transform":[{"filter":"datum.m=='d'"}],"mark":{"type":"point","shape":"square","filled":true,"size":10,"opacity":1},"encoding":{"x":{"field":"x","type":"quantitative","scale":{"domain":[-2,2],"nice":false},"axis":{"tickCount":5,"title":"h","labelFontSize":6}},"y":{"field":"y","type":"quantitative","scale":{"domain":[-2,2],"nice":false},"axis":{"tickCount":5,"title":"k","titleAngle":0,"labelFontSize":6,"titlePadding":1}},"color":{"field":"v","type":"quantitative","scale":{"domain":[0,0.01],"range":["#45b9c9","#1f3f8f","#24246a","#6a4c9c","#b07a9a","#f2a83a"]},"legend":null}}},
     {"data":{"values":[{}]},"mark":{"type":"rect","fill":"white","stroke":"black","strokeWidth":0.8},"encoding":{"x":{"datum":0.75},"x2":{"datum":3.1},"y":{"datum":2.05},"y2":{"datum":1.3}}},
     {"data":{"values":[{}]},"mark":{"type":"text","fontSize":7,"fontStyle":"italic"},"encoding":{"x":{"datum":1.92},"y":{"datum":1.67},"text":{"value":"Fₗ(h,k,0)"}}}
    ]},
    {"width":57,"height":54,"view":{"fill":"#48bacb","stroke":"black","strokeWidth":0.8},"layer":[
     {"data":{"name":"pk"},"transform":[{"filter":"datum.m=='e'"}],"mark":{"type":"point","shape":"square","filled":true,"size":10,"opacity":1},"encoding":{"x":{"field":"x","type":"quantitative","scale":{"domain":[-2,2],"nice":false},"axis":{"tickCount":5,"title":"h","labelFontSize":6}},"y":{"field":"y","type":"quantitative","scale":{"domain":[-2,2],"nice":false},"axis":{"tickCount":5,"title":"l","titleAngle":0,"labelFontSize":6,"titlePadding":1}},"color":{"field":"v","type":"quantitative","scale":{"domain":[0,0.01],"range":["#45b9c9","#1f3f8f","#24246a","#6a4c9c","#b07a9a","#f2a83a"]},"legend":null}}},
     {"data":{"values":[{}]},"mark":{"type":"rect","fill":"white","stroke":"black","strokeWidth":0.8},"encoding":{"x":{"datum":0.75},"x2":{"datum":3.1},"y":{"datum":2.05},"y2":{"datum":1.3}}},
     {"data":{"values":[{}]},"mark":{"type":"text","fontSize":7,"fontStyle":"italic"},"encoding":{"x":{"datum":1.92},"y":{"datum":1.67},"text":{"value":"Fₗ(h,0,l)"}}}
    ]},
    {"width":57,"height":54,"view":{"fill":"#48bacb","stroke":"black","strokeWidth":0.8},"layer":[
     {"data":{"name":"pk"},"transform":[{"filter":"datum.m=='f'"}],"mark":{"type":"point","shape":"square","filled":true,"size":10,"opacity":1},"encoding":{"x":{"field":"x","type":"quantitative","scale":{"domain":[-2,2],"nice":false},"axis":{"tickCount":5,"title":"k","labelFontSize":6}},"y":{"field":"y","type":"quantitative","scale":{"domain":[-2,2],"nice":false},"axis":{"tickCount":5,"title":"l","titleAngle":0,"labelFontSize":6,"titlePadding":1}},"color":{"field":"v","type":"quantitative","scale":{"domain":[0,0.01],"range":["#45b9c9","#1f3f8f","#24246a","#6a4c9c","#b07a9a","#f2a83a"]},"legend":{"orient":"right","offset":21,"padding":0,"title":null,"gradientLength":54,"gradientThickness":6,"direction":"vertical","values":[0,0.002,0.004,0.006,0.008,0.01],"labelExpr":"datum.value==0?'0':(datum.value>0.009?'1×10⁻²':format(datum.value*1000,'.0f')+'×10⁻³')","labelFontSize":4.5,"labelFont":"Liberation Serif","labelOverlap":false,"labelOffset":2}}}},
     {"data":{"values":[{}]},"mark":{"type":"rect","fill":"white","stroke":"black","strokeWidth":0.8},"encoding":{"x":{"datum":0.75},"x2":{"datum":3.1},"y":{"datum":2.05},"y2":{"datum":1.3}}},
     {"data":{"values":[{}]},"mark":{"type":"text","fontSize":7,"fontStyle":"italic"},"encoding":{"x":{"datum":1.92},"y":{"datum":1.67},"text":{"value":"Fₗ(0,k,l)"}}}
    ]}
  ]}
]
}
